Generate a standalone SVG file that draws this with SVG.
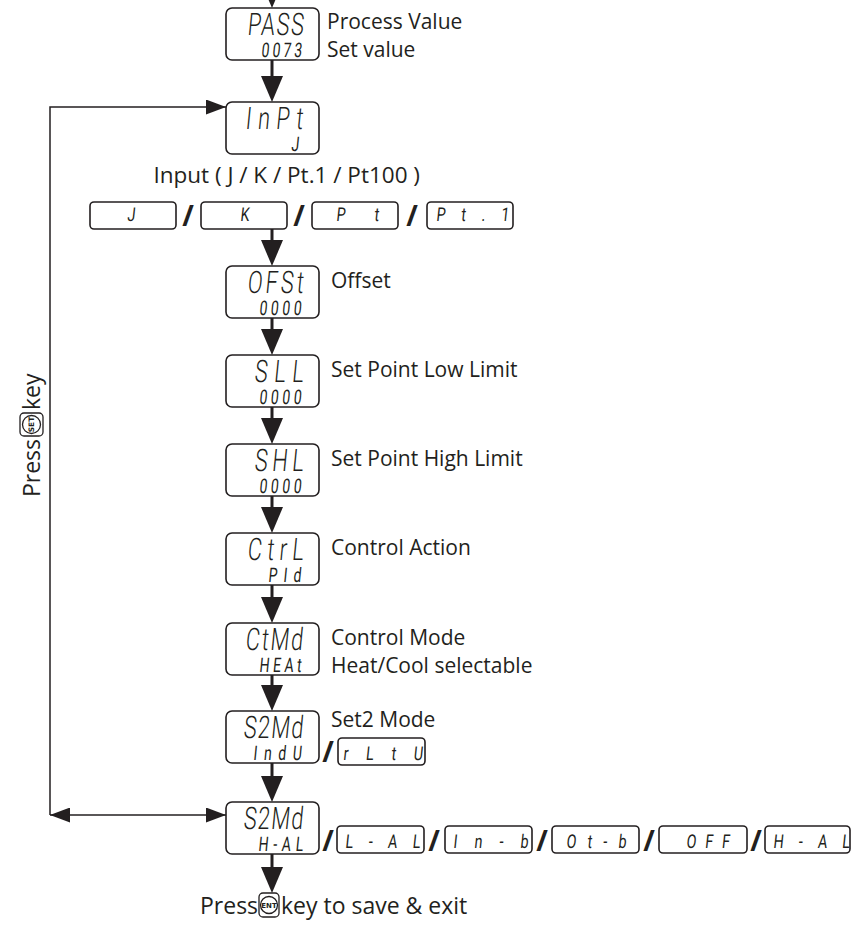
<svg xmlns="http://www.w3.org/2000/svg" width="852" height="925" viewBox="0 0 852 925">
<style>
.bg{fill:#fff}
.box{fill:#fff;stroke:#231f20;stroke-width:1.6}
.lbl{font-family:"Open Sans","Liberation Sans",sans-serif;font-size:21px;fill:#231f20}
.seg{font-family:Roboto,Lato,Inter,"DejaVu Sans",sans-serif;font-weight:300;fill:#231f20}
.big{font-size:31px}
.sm{font-size:20px;font-weight:400}
.opt{font-size:19px;font-weight:400}
.sl{font-family:"Open Sans","Liberation Sans",sans-serif;font-size:28px;font-weight:700;fill:#231f20;text-anchor:middle}
.conn{stroke:#231f20;stroke-width:3;fill:none}
.thin{stroke:#231f20;stroke-width:1.5;fill:none}
.key{font-family:"DejaVu Sans","Liberation Sans",sans-serif;font-weight:bold;fill:#231f20;text-anchor:middle}
</style>
<defs>
<marker id="ah" markerUnits="userSpaceOnUse" markerWidth="26" markerHeight="22" refX="16" refY="11" orient="auto"><path d="M0,0 L26,11 L0,22 z" fill="#231f20"/></marker>
<marker id="ahs" markerUnits="userSpaceOnUse" markerWidth="20" markerHeight="15" refX="20" refY="7.5" orient="auto-start-reverse"><path d="M0,0 L20,7.5 L0,15 z" fill="#231f20"/></marker>
</defs>
<rect class="bg" x="0" y="0" width="852" height="925"/>

<g id="connectors">
<line class="conn" x1="272" y1="-30" x2="272" y2="-2" marker-end="url(#ah)"/>
<line class="conn" x1="272" y1="60" x2="272" y2="92" marker-end="url(#ah)"/>
<line class="conn" x1="272" y1="229" x2="272" y2="256" marker-end="url(#ah)"/>
<line class="conn" x1="272" y1="318" x2="272" y2="345" marker-end="url(#ah)"/>
<line class="conn" x1="272" y1="407" x2="272" y2="434" marker-end="url(#ah)"/>
<line class="conn" x1="272" y1="496" x2="272" y2="523" marker-end="url(#ah)"/>
<line class="conn" x1="272" y1="585" x2="272" y2="613" marker-end="url(#ah)"/>
<line class="conn" x1="272" y1="675" x2="272" y2="701" marker-end="url(#ah)"/>
<line class="conn" x1="272" y1="763" x2="272" y2="792" marker-end="url(#ah)"/>
<line class="conn" x1="272" y1="854" x2="272" y2="883" marker-end="url(#ah)"/>
<polyline class="thin" points="50,815 50,107 226,107" marker-end="url(#ahs)"/>
<line class="thin" x1="50" y1="815" x2="226" y2="815" marker-start="url(#ahs)" marker-end="url(#ahs)"/>
</g>

<g id="node-pass">
<rect class="box" x="226" y="8" width="93" height="52" rx="6"/>
<text class="seg big" transform="translate(247,35) scale(0.7,1) skewX(-8)" textLength="80" lengthAdjust="spacing">PASS</text>
<text class="seg sm" transform="translate(261,57) scale(0.7,1) skewX(-8)" textLength="58" lengthAdjust="spacing">0073</text>
<text class="lbl" x="327" y="29">Process Value</text>
<text class="lbl" x="327" y="57">Set value</text>
</g>

<g id="node-inpt">
<rect class="box" x="226" y="102" width="93" height="52" rx="6"/>
<text class="seg big" transform="translate(245,129) scale(0.7,1) skewX(-8)" textLength="82" lengthAdjust="spacing">InPt</text>
<text class="seg sm" transform="translate(291,151) scale(0.7,1) skewX(-8)">J</text>
<text class="lbl" x="420" y="183" style="text-anchor:end;font-size:22.5px">Input ( J / K / Pt.1 / Pt100 )</text>
</g>

<g id="input-options">
<rect class="box" x="90" y="202" width="86" height="27" rx="4"/>
<text class="seg opt" transform="translate(127,221) scale(0.75,1) skewX(-8)">J</text>
<text class="sl" x="188" y="226">/</text>
<rect class="box" x="201" y="202" width="86" height="27" rx="4"/>
<text class="seg opt" transform="translate(240,221) scale(0.75,1) skewX(-8)">K</text>
<text class="sl" x="299" y="226">/</text>
<rect class="box" x="312" y="202" width="86" height="27" rx="4"/>
<text class="seg opt" transform="translate(336,221) scale(0.75,1) skewX(-8)" textLength="57" lengthAdjust="spacing">Pt</text>
<text class="sl" x="412" y="226">/</text>
<rect class="box" x="427" y="202" width="86" height="27" rx="4"/>
<text class="seg opt" transform="translate(436,221) scale(0.75,1) skewX(-8)" textLength="97" lengthAdjust="spacing">Pt.1</text>
</g>

<g id="node-ofst">
<rect class="box" x="226" y="266" width="93" height="52" rx="6"/>
<text class="seg big" transform="translate(247,293) scale(0.7,1) skewX(-8)" textLength="80" lengthAdjust="spacing">OFSt</text>
<text class="seg sm" transform="translate(259,315) scale(0.7,1) skewX(-8)" textLength="60" lengthAdjust="spacing">0000</text>
<text class="lbl" x="331" y="288">Offset</text>
</g>

<g id="node-sll">
<rect class="box" x="226" y="355" width="93" height="52" rx="6"/>
<text class="seg big" transform="translate(254,382) scale(0.7,1) skewX(-8)" textLength="70" lengthAdjust="spacing">SLL</text>
<text class="seg sm" transform="translate(259,404) scale(0.7,1) skewX(-8)" textLength="60" lengthAdjust="spacing">0000</text>
<text class="lbl" x="331" y="377">Set Point Low Limit</text>
</g>

<g id="node-shl">
<rect class="box" x="226" y="444" width="93" height="52" rx="6"/>
<text class="seg big" transform="translate(254,471) scale(0.7,1) skewX(-8)" textLength="70" lengthAdjust="spacing">SHL</text>
<text class="seg sm" transform="translate(259,493) scale(0.7,1) skewX(-8)" textLength="60" lengthAdjust="spacing">0000</text>
<text class="lbl" x="331" y="466">Set Point High Limit</text>
</g>

<g id="node-ctrl">
<rect class="box" x="226" y="533" width="93" height="52" rx="6"/>
<text class="seg big" transform="translate(247,560) scale(0.7,1) skewX(-8)" textLength="80" lengthAdjust="spacing">CtrL</text>
<text class="seg sm" transform="translate(268,582) scale(0.7,1) skewX(-8)" textLength="47" lengthAdjust="spacing">PId</text>
<text class="lbl" x="331" y="555">Control Action</text>
</g>

<g id="node-ctmd">
<rect class="box" x="226" y="623" width="93" height="52" rx="6"/>
<text class="seg big" transform="translate(245,650) scale(0.7,1) skewX(-8)" textLength="82" lengthAdjust="spacing">CtMd</text>
<text class="seg sm" transform="translate(259,672) scale(0.7,1) skewX(-8)" textLength="60" lengthAdjust="spacing">HEAt</text>
<text class="lbl" x="331" y="645">Control Mode</text>
<text class="lbl" x="331" y="673">Heat/Cool selectable</text>
</g>

<g id="node-s2md">
<rect class="box" x="226" y="711" width="93" height="52" rx="6"/>
<text class="seg big" transform="translate(243,738) scale(0.7,1) skewX(-8)" textLength="85" lengthAdjust="spacing">S2Md</text>
<text class="seg sm" transform="translate(253,760) scale(0.7,1) skewX(-8)" textLength="69" lengthAdjust="spacing">IndU</text>
<text class="lbl" x="331" y="727">Set2 Mode</text>
<text class="sl" x="328" y="762">/</text>
<rect class="box" x="338" y="738" width="87" height="27" rx="4"/>
<text class="seg opt" transform="translate(343,760) scale(0.75,1) skewX(-8)" textLength="106" lengthAdjust="spacing">rLtU</text>
</g>

<g id="node-s2md-2">
<rect class="box" x="226" y="802" width="93" height="52" rx="6"/>
<text class="seg big" transform="translate(243,829) scale(0.7,1) skewX(-8)" textLength="85" lengthAdjust="spacing">S2Md</text>
<text class="seg sm" transform="translate(258,851) scale(0.7,1) skewX(-8)" textLength="64" lengthAdjust="spacing">H-AL</text>
<text class="sl" x="328" y="851">/</text>
<rect class="box" x="337" y="826" width="87" height="27" rx="4"/>
<text class="seg opt" transform="translate(345,848) scale(0.75,1) skewX(-8)" textLength="100" lengthAdjust="spacing">L-AL</text>
<text class="sl" x="434" y="851">/</text>
<rect class="box" x="445" y="826" width="87" height="27" rx="4"/>
<text class="seg opt" transform="translate(453,848) scale(0.75,1) skewX(-8)" textLength="100" lengthAdjust="spacing">In-b</text>
<text class="sl" x="542" y="851">/</text>
<rect class="box" x="552" y="826" width="87" height="27" rx="4"/>
<text class="seg opt" transform="translate(566,848) scale(0.75,1) skewX(-8)" textLength="80" lengthAdjust="spacing">Ot-b</text>
<text class="sl" x="649" y="851">/</text>
<rect class="box" x="659" y="826" width="88" height="27" rx="4"/>
<text class="seg opt" transform="translate(686,848) scale(0.75,1) skewX(-8)" textLength="58" lengthAdjust="spacing">OFF</text>
<text class="sl" x="756" y="851">/</text>
<rect class="box" x="765" y="826" width="85" height="27" rx="4"/>
<text class="seg opt" transform="translate(773,848) scale(0.75,1) skewX(-8)" textLength="102" lengthAdjust="spacing">H-AL</text>
</g>

<g id="exit-label">
<text class="lbl" x="200" y="914" style="font-size:23px">Press</text>
<rect x="259" y="893" width="20" height="24" rx="4" fill="none" stroke="#231f20" stroke-width="1.3"/>
<circle cx="269" cy="905" r="8.5" fill="none" stroke="#231f20" stroke-width="1.3"/>
<text class="key" x="269" y="907.5" style="font-size:7px">ENT</text>
<text class="lbl" x="281" y="914" style="font-size:23px">key to save &amp; exit</text>
</g>

<g id="loop-label" transform="translate(40,424) rotate(-90)">
<text class="lbl" x="-15" y="0" style="text-anchor:end;font-size:23px">Press</text>
<rect x="-12" y="-20" width="23" height="23" rx="4" fill="none" stroke="#231f20" stroke-width="1.3"/>
<circle cx="-0.5" cy="-8.5" r="9" fill="none" stroke="#231f20" stroke-width="1.3"/>
<text class="key" x="-0.5" y="-6" style="font-size:7.5px">SET</text>
<text class="lbl" x="14" y="0" style="font-size:23px">key</text>
</g>
</svg>
